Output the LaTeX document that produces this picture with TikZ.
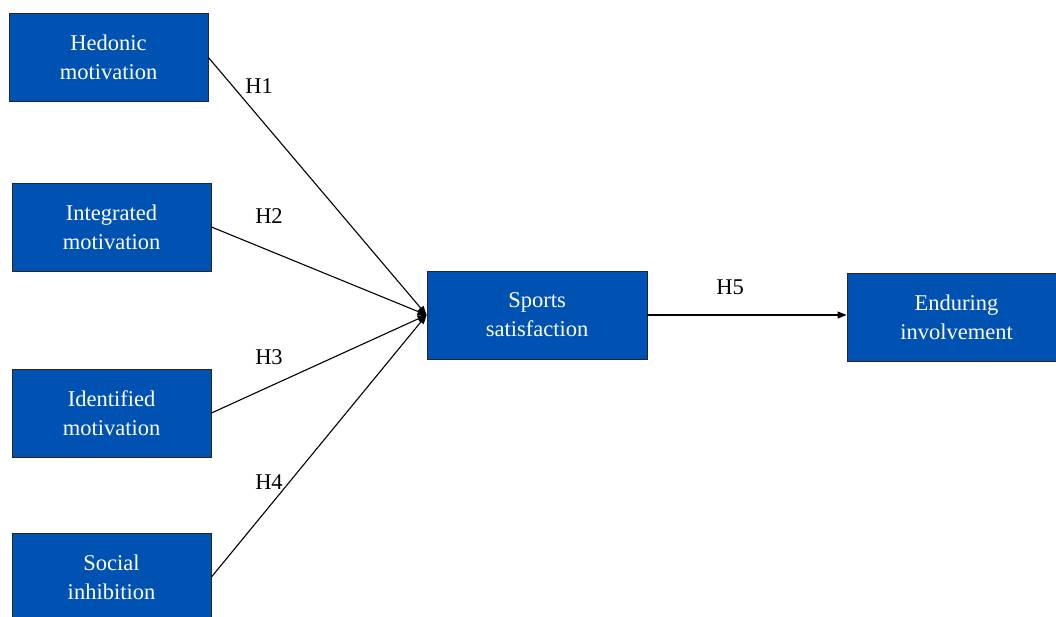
\documentclass[tikz,border=0pt]{standalone}
\usepackage{fontspec}
\setmainfont{Liberation Serif}
\newfontfamily\diagfont{Liberation Serif}
\usetikzlibrary{arrows.meta}
\definecolor{boxblue}{RGB}{0,82,178}
\begin{document}
\begin{tikzpicture}[
  x=1pt,y=-1pt,
  every node/.style={font=\diagfont\fontsize{22.5}{29}\selectfont},
  var/.style={rectangle,draw=black!85,line width=0.9pt,fill=boxblue,text=white,
    align=center,minimum width=199pt,minimum height=88pt,inner sep=0pt},
  link/.style={line width=1.1pt,-{Triangle[length=9pt,width=7pt]}},
  hyp/.style={text=black,inner sep=0pt}
]
\useasboundingbox (0,0) rectangle (1056,616);
\node[var] (hed) at (108.5,57.5) {Hedonic\\motivation};
\node[var] (int) at (111.5,227) {Integrated\\motivation};
\node[var] (ide) at (111.5,413) {Identified\\motivation};
\node[var] (soc) at (111.5,577) {Social\\inhibition};
\node[var,minimum width=220pt] (sat) at (537,315) {Sports\\satisfaction};
\node[var,minimum width=219pt] (end) at (956.5,317.5) {Enduring\\involvement};
\draw[link] (hed.east) -- (sat.west);
\draw[link] (int.east) -- (sat.west);
\draw[link] (ide.east) -- (sat.west);
\draw[link] (soc.east) -- (sat.west);
\draw[link] (sat.east) -- (sat.east -| end.west);
\node[hyp] (h1) at (259,86) {H1};
\node[hyp] (h2) at (269,216) {H2};
\node[hyp] (h3) at (269,357) {H3};
\node[hyp] (h4) at (269,482) {H4};
\node[hyp] (h5) at (730,287) {H5};
\end{tikzpicture}
\end{document}
